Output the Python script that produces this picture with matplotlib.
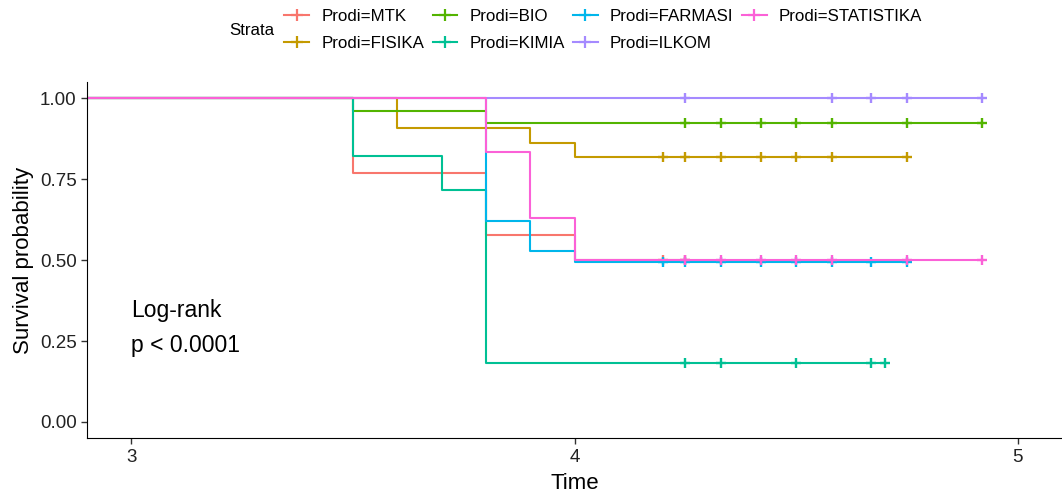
import matplotlib.pyplot as plt
from matplotlib.lines import Line2D

plt.rcParams['font.family'] = ['Liberation Sans', 'DejaVu Sans']

# data: step times, survival after each step, censor times
strata = ["Prodi=MTK", "Prodi=FISIKA", "Prodi=BIO", "Prodi=KIMIA",
          "Prodi=FARMASI", "Prodi=ILKOM", "Prodi=STATISTIKA"]
colors = ["#F8766D", "#C49A00", "#53B400", "#00C094", "#00B6EB", "#A58AFF", "#FB61D7"]

mtk_t = [0, 3.5, 3.8, 4.0]
mtk_s = [1.0, 0.769, 0.577, 0.50]
mtk_c = [4.2, 4.25]

fis_t = [0, 3.6, 3.9, 4.0]
fis_s = [1.0, 0.908, 0.863, 0.818]
fis_c = [4.2, 4.25, 4.33, 4.42, 4.5, 4.58, 4.75]

bio_t = [0, 3.5, 3.8]
bio_s = [1.0, 0.961, 0.922]
bio_c = [4.25, 4.33, 4.42, 4.5, 4.58, 4.75, 4.92]

kim_t = [0, 3.5, 3.7, 3.8]
kim_s = [1.0, 0.823, 0.718, 0.182]
kim_c = [4.25, 4.33, 4.5, 4.67, 4.7]

far_t = [0, 3.8, 3.9, 4.0]
far_s = [1.0, 0.62, 0.529, 0.494]
far_c = [4.2, 4.25, 4.33, 4.42, 4.5, 4.58, 4.67, 4.75]

ilk_t = [0]
ilk_s = [1.0]
ilk_c = [4.25, 4.58, 4.67, 4.75, 4.92]

sta_t = [0, 3.8, 3.9, 4.0]
sta_s = [1.0, 0.835, 0.629, 0.50]
sta_c = [4.25, 4.33, 4.42, 4.5, 4.58, 4.75, 4.92]

curves = [(mtk_t, mtk_s, mtk_c), (fis_t, fis_s, fis_c), (bio_t, bio_s, bio_c),
          (kim_t, kim_s, kim_c), (far_t, far_s, far_c), (ilk_t, ilk_s, ilk_c),
          (sta_t, sta_s, sta_c)]

fig = plt.figure(figsize=(10.62, 4.94), dpi=100)
ax = fig.add_axes([0.082, 0.113, 0.918, 0.721])

for (t, s, c), col in zip(curves, colors):
    xs = t + [max(c)]
    ys = s + [s[-1]]
    ax.step(xs, ys, where='post', color=col, lw=1.5)
    # survival at censor times
    cy = []
    for ct in c:
        v = s[0]
        for tt, ss in zip(t, s):
            if tt <= ct:
                v = ss
        cy.append(v)
    ax.plot(c, cy, ls='none', marker='+', ms=7.5, mew=1.7, color=col)

ax.set_xlim(2.9, 5.1)
ax.set_ylim(-0.05, 1.05)
ax.set_xticks([3, 4, 5])
ax.set_yticks([0, 0.25, 0.5, 0.75, 1.0])
ax.set_yticklabels(["0.00", "0.25", "0.50", "0.75", "1.00"])
ax.tick_params(labelsize=13.5, length=4, width=1, color='#333333', labelcolor='#222222')
ax.spines['top'].set_visible(False)
ax.spines['right'].set_visible(False)
ax.set_xlabel("Time", fontsize=16, labelpad=5)
ax.set_ylabel("Survival probability", fontsize=16, labelpad=4)

ax.text(3.0, 0.343, "Log-rank", fontsize=16.5, va='center', ha='left')
ax.text(3.0, 0.237, "p < 0.0001", fontsize=16.5, va='center', ha='left')

handles = [Line2D([], [], color=col, lw=1.5, marker='+', ms=8, mew=1.6) for col in colors]
fig.legend(handles, strata, ncol=4, loc='upper left', bbox_to_anchor=(0.2535, 1.012),
           frameon=False, fontsize=12.2, handlelength=1.45, handletextpad=0.72,
           columnspacing=0.5, labelspacing=0.71)
fig.text(0.216, 0.938, "Strata", fontsize=12.2, va='center', ha='left')

fig.savefig("out.png", dpi=100, facecolor='white')
